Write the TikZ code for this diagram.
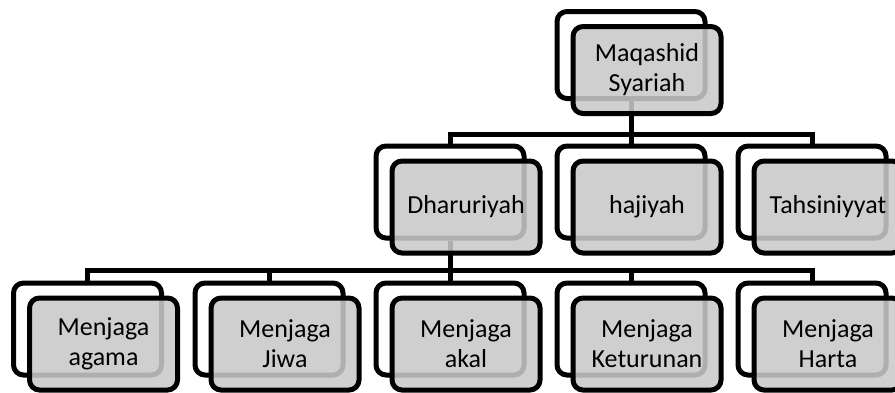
\documentclass[tikz,border=0pt]{standalone}
\usepackage{fontspec}
\setmainfont{Carlito}
\usetikzlibrary{backgrounds}
\definecolor{boxgray}{RGB}{201,201,201}

\begin{document}
\begin{tikzpicture}[x=1pt, y=-1pt,
	backbox/.style={draw, line width=5pt, rounded corners=10pt, fill=white,
		minimum width=148pt, minimum height=92pt, inner sep=0pt},
	frontbox/.style={backbox, fill=boxgray, fill opacity=0.875, text opacity=1,
		align=center, font=\fontsize{26}{30}\selectfont, xshift=16pt, yshift=-15pt},
	link/.style={line width=5pt}]

	% ---- frame

	\useasboundingbox (0,0) rectangle (895,392);
	\clip (0,0) rectangle (895,392);

	% ---- top box

	\node[backbox, minimum height=87pt] (root-b) at (631,55) {};
	\node[frontbox, minimum height=87pt] (root) at (root-b) {Maqashid\\Syariah};

	% ---- second row

	\foreach \n/\x/\t in {dhar/450/Dharuriyah, haji/631/hajiyah, tahs/812/Tahsiniyyat} {
		\node[backbox] (\n-b) at (\x,192) {};
		\node[frontbox] (\n) at (\n-b) {\t};
	}

	% ---- third row

	\foreach \n/\x/\t in {agam/87.5/Menjaga\\agama, jiwa/269/Menjaga\\Jiwa,
		akal/450/Menjaga\\akal, ketu/631/Menjaga\\Keturunan, hart/812/Menjaga\\Harta} {
		\node[backbox] (\n-b) at (\x,329) {};
		\node[frontbox] (\n) at (\n-b) {\t};
	}

	% ---- connectors

	\begin{pgfonlayer}{background}
		\foreach \n in {dhar,haji,tahs}
			\draw[link] (root-b.south) -- ++(0,33) -| (\n-b.north);
		\foreach \n in {agam,jiwa,akal,ketu,hart}
			\draw[link] (dhar-b.south) -- ++(0,30) -| (\n-b.north);
	\end{pgfonlayer}

\end{tikzpicture}
\end{document}
